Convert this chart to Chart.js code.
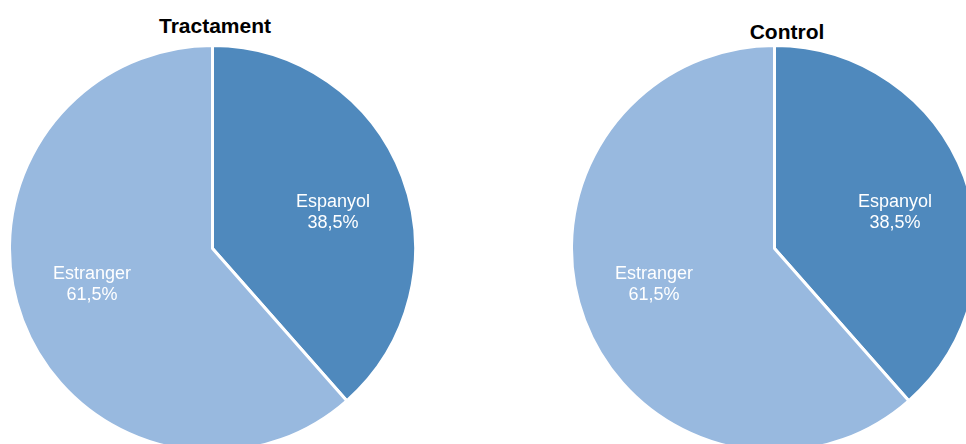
<!DOCTYPE html>
<html>
<head>
<meta charset="utf-8">
<script src="https://cdn.jsdelivr.net/npm/chart.js@4/dist/chart.umd.min.js"></script>
<style>
  html, body { margin: 0; padding: 0; background: #fff; }
  body { position: relative; width: 966px; height: 444px; overflow: hidden; font-family: "Liberation Sans", Arial, sans-serif; }
  .pie { position: absolute; }
  .titol { position: absolute; font-weight: bold; font-size: 21px; color: #000; transform: translateX(-50%); white-space: nowrap; line-height: 1; }
</style>
</head>
<body>
<div class="titol" id="t1" style="left:215px; top:15px;"></div>
<div class="titol" id="t2" style="left:787px; top:21px;"></div>
<canvas class="pie" id="pie1" width="409" height="409" style="left:8px; top:44px;"></canvas>
<canvas class="pie" id="pie2" width="409" height="409" style="left:570px; top:44px;"></canvas>
<script>
const categories = ['Espanyol', 'Estranger'];
const tractament = [38.5, 61.5];
const control = [38.5, 61.5];
const chartTitles = ['Tractament', 'Control'];
const colors = ['#4f89bd', '#98b9df'];

// white name + percentage inside each slice, nudged a bit clockwise
const sliceLabels = {
    id: 'sliceLabels',
    afterDatasetsDraw(chart) {
        const ctx = chart.ctx;
        const values = chart.data.datasets[0].data;
        chart.getDatasetMeta(0).data.forEach((arc, i) => {
            const p = arc.getProps(['x', 'y', 'startAngle', 'endAngle', 'outerRadius'], true);
            const mid = (p.startAngle + p.endAngle) / 2 + 0.07;
            const r = p.outerRadius * 0.62;
            const x = p.x + Math.cos(mid) * r;
            const y = p.y + Math.sin(mid) * r;
            ctx.save();
            ctx.fillStyle = '#fff';
            ctx.font = '18px "Liberation Sans", Arial, sans-serif';
            ctx.textAlign = 'center';
            ctx.textBaseline = 'middle';
            ctx.fillText(chart.data.labels[i], x, y - 10.5);
            ctx.fillText(values[i].toFixed(1).replace('.', ',') + '%', x, y + 10.5);
            ctx.restore();
        });
    }
};

function makePie(id, values) {
    return new Chart(document.getElementById(id), {
        type: 'pie',
        data: {
            labels: categories,
            datasets: [{
                data: values,
                backgroundColor: colors,
                borderColor: '#fff',
                borderWidth: 3
            }]
        },
        options: {
            responsive: false,
            animation: false,
            layout: { padding: 0 },
            plugins: {
                legend: { display: false },
                tooltip: { enabled: false }
            }
        },
        plugins: [sliceLabels]
    });
}

document.getElementById('t1').textContent = chartTitles[0];
document.getElementById('t2').textContent = chartTitles[1];
makePie('pie1', tractament);
makePie('pie2', control);
</script>
</body>
</html>
